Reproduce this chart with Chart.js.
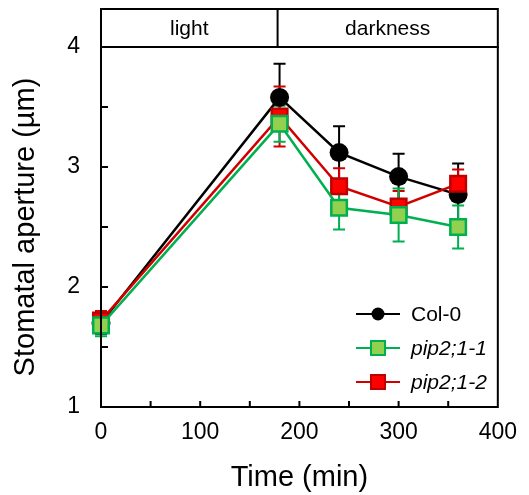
<!DOCTYPE html>
<html>
<head>
<meta charset="utf-8">
<script src="https://cdn.jsdelivr.net/npm/chart.js@4"></script>
<style>
  html, body { margin: 0; padding: 0; background: #fff; }
  #wrap { width: 529px; height: 495px; }
</style>
</head>
<body>
<div id="wrap"><canvas id="c" width="529" height="495"></canvas></div>
<script>
// ====== Data
const times = [0, 180, 240, 300, 360];
const col0 = [1.70, 3.58, 3.12, 2.92, 2.77];
const col0Err = [0.09, 0.28, 0.22, 0.19, 0.26];
const pip1 = [1.68, 3.36, 2.66, 2.60, 2.50];
const pip1Err = [0.09, 0.15, 0.18, 0.22, 0.18];
const pip2 = [1.72, 3.42, 2.84, 2.67, 2.86];
const pip2Err = [0.08, 0.25, 0.15, 0.13, 0.12];
const phaseLabels = ["light", "darkness"];
const phaseSplit = 178;

const FONT = "'Liberation Sans', Arial, sans-serif";

const series = [
  { label: "Col-0", y: col0, err: col0Err, line: "#000000", fill: "#000000", edge: "#000000", shape: "circle", order: 3, italic: false },
  { label: "pip2;1-1", y: pip1, err: pip1Err, line: "#00B050", fill: "#92D050", edge: "#00B050", shape: "rect", order: 1, italic: true },
  { label: "pip2;1-2", y: pip2, err: pip2Err, line: "#D00000", fill: "#FF0000", edge: "#C00000", shape: "rect", order: 2, italic: true },
];

// ====== Error bars
const errorBarPlugin = {
  id: "errorBars",
  beforeDatasetsDraw: (chart) => {
    const { ctx, scales } = chart;
    const idx = series.map((s, i) => i).sort((a, b) => series[b].order - series[a].order);
    idx.forEach((i) => {
      const s = series[i];
      ctx.save();
      ctx.strokeStyle = s.line;
      ctx.lineWidth = 2;
      s.y.forEach((v, k) => {
        const x = scales.x.getPixelForValue(times[k]);
        const yt = scales.y.getPixelForValue(v + s.err[k]);
        const yb = scales.y.getPixelForValue(v - s.err[k]);
        ctx.beginPath();
        ctx.moveTo(x, yt); ctx.lineTo(x, yb);
        ctx.moveTo(x - 6, yt); ctx.lineTo(x + 6, yt);
        ctx.moveTo(x - 6, yb); ctx.lineTo(x + 6, yb);
        ctx.stroke();
      });
      ctx.restore();
    });
  },
};

// ====== Frame, ticks, header, legend
const framePlugin = {
  id: "frame",
  afterDraw: (chart) => {
    const { ctx, chartArea: a, scales } = chart;
    ctx.save();
    ctx.strokeStyle = "#000";
    ctx.lineWidth = 2;
    ctx.strokeRect(a.left, a.top, a.right - a.left, a.bottom - a.top);

    // inward ticks
    ctx.beginPath();
    for (let v = 1.5; v < 4; v += 0.5) {
      const y = scales.y.getPixelForValue(v);
      ctx.moveTo(a.left, y); ctx.lineTo(a.left + 7, y);
    }
    for (let t = 50; t < 400; t += 50) {
      const x = scales.x.getPixelForValue(t);
      ctx.moveTo(x, a.bottom); ctx.lineTo(x, a.bottom - 6);
    }
    ctx.stroke();

    // header box
    const top = 9;
    const xs = scales.x.getPixelForValue(phaseSplit);
    ctx.strokeRect(a.left, top, a.right - a.left, a.top - top);
    ctx.beginPath();
    ctx.moveTo(xs, top); ctx.lineTo(xs, a.top);
    ctx.stroke();
    ctx.fillStyle = "#000";
    ctx.font = "21px " + FONT;
    ctx.textAlign = "center";
    ctx.textBaseline = "middle";
    ctx.fillText(phaseLabels[0], (a.left + xs) / 2, (top + a.top) / 2 + 1);
    ctx.fillText(phaseLabels[1], (xs + a.right) / 2, (top + a.top) / 2 + 1);

    // legend
    const lx = 356, lw = 44, ly0 = 314, dy = 34;
    series.forEach((s, i) => {
      const y = ly0 + i * dy;
      ctx.strokeStyle = s.line;
      ctx.lineWidth = 2;
      ctx.beginPath();
      ctx.moveTo(lx, y); ctx.lineTo(lx + lw, y);
      ctx.stroke();
      const cx = lx + lw / 2;
      if (s.shape === "circle") {
        ctx.fillStyle = s.fill;
        ctx.beginPath();
        ctx.arc(cx, y, 6.5, 0, Math.PI * 2);
        ctx.fill();
      } else {
        ctx.fillStyle = s.fill;
        ctx.fillRect(cx - 7, y - 7, 14, 14);
        ctx.strokeStyle = s.edge;
        ctx.strokeRect(cx - 7, y - 7, 14, 14);
      }
      ctx.fillStyle = "#000";
      ctx.font = (s.italic ? "italic " : "") + "21px " + FONT;
      ctx.textAlign = "left";
      ctx.fillText(s.label, 411, y + 1);
    });
    ctx.restore();
  },
};

const datasets = series.map((s) => ({
  label: s.label,
  data: times.map((t, k) => ({ x: t, y: s.y[k] })),
  borderColor: s.line,
  borderWidth: 2.5,
  pointStyle: s.shape,
  pointRadius: s.shape === "circle" ? 9.5 : 11,
  pointBackgroundColor: s.fill,
  pointBorderColor: s.edge,
  pointBorderWidth: s.shape === "circle" ? 0 : 2.5,
  order: s.order,
  tension: 0,
  clip: false,
}));

new Chart(document.getElementById("c"), {
  type: "line",
  data: { datasets },
  options: {
    responsive: false,
    animation: false,
    layout: { padding: { left: 0, top: 47, right: 23, bottom: 0 } },
    plugins: { legend: { display: false }, tooltip: { enabled: false } },
    scales: {
      x: {
        type: "linear", min: 0, max: 400,
        ticks: { stepSize: 100, color: "#000", font: { family: FONT, size: 23 }, padding: 12, maxRotation: 0 },
        grid: { display: false, drawTicks: false },
        border: { display: false },
        title: { display: true, text: "Time (min)", color: "#000", font: { family: FONT, size: 29 }, padding: { top: 6, bottom: 0 } },
        afterFit: (s) => { s.height = 88; },
      },
      y: {
        min: 1, max: 4,
        ticks: { stepSize: 1, color: "#000", font: { family: FONT, size: 23 }, padding: 21 },
        grid: { display: false, drawTicks: false },
        border: { display: false },
        title: { display: true, text: "Stomatal aperture (µm)", color: "#000", font: { family: FONT, size: 29 }, padding: { top: 9, bottom: 0 } },
        afterFit: (s) => { s.width = 101; },
      },
    },
  },
  plugins: [errorBarPlugin, framePlugin],
});
</script>
</body>
</html>
